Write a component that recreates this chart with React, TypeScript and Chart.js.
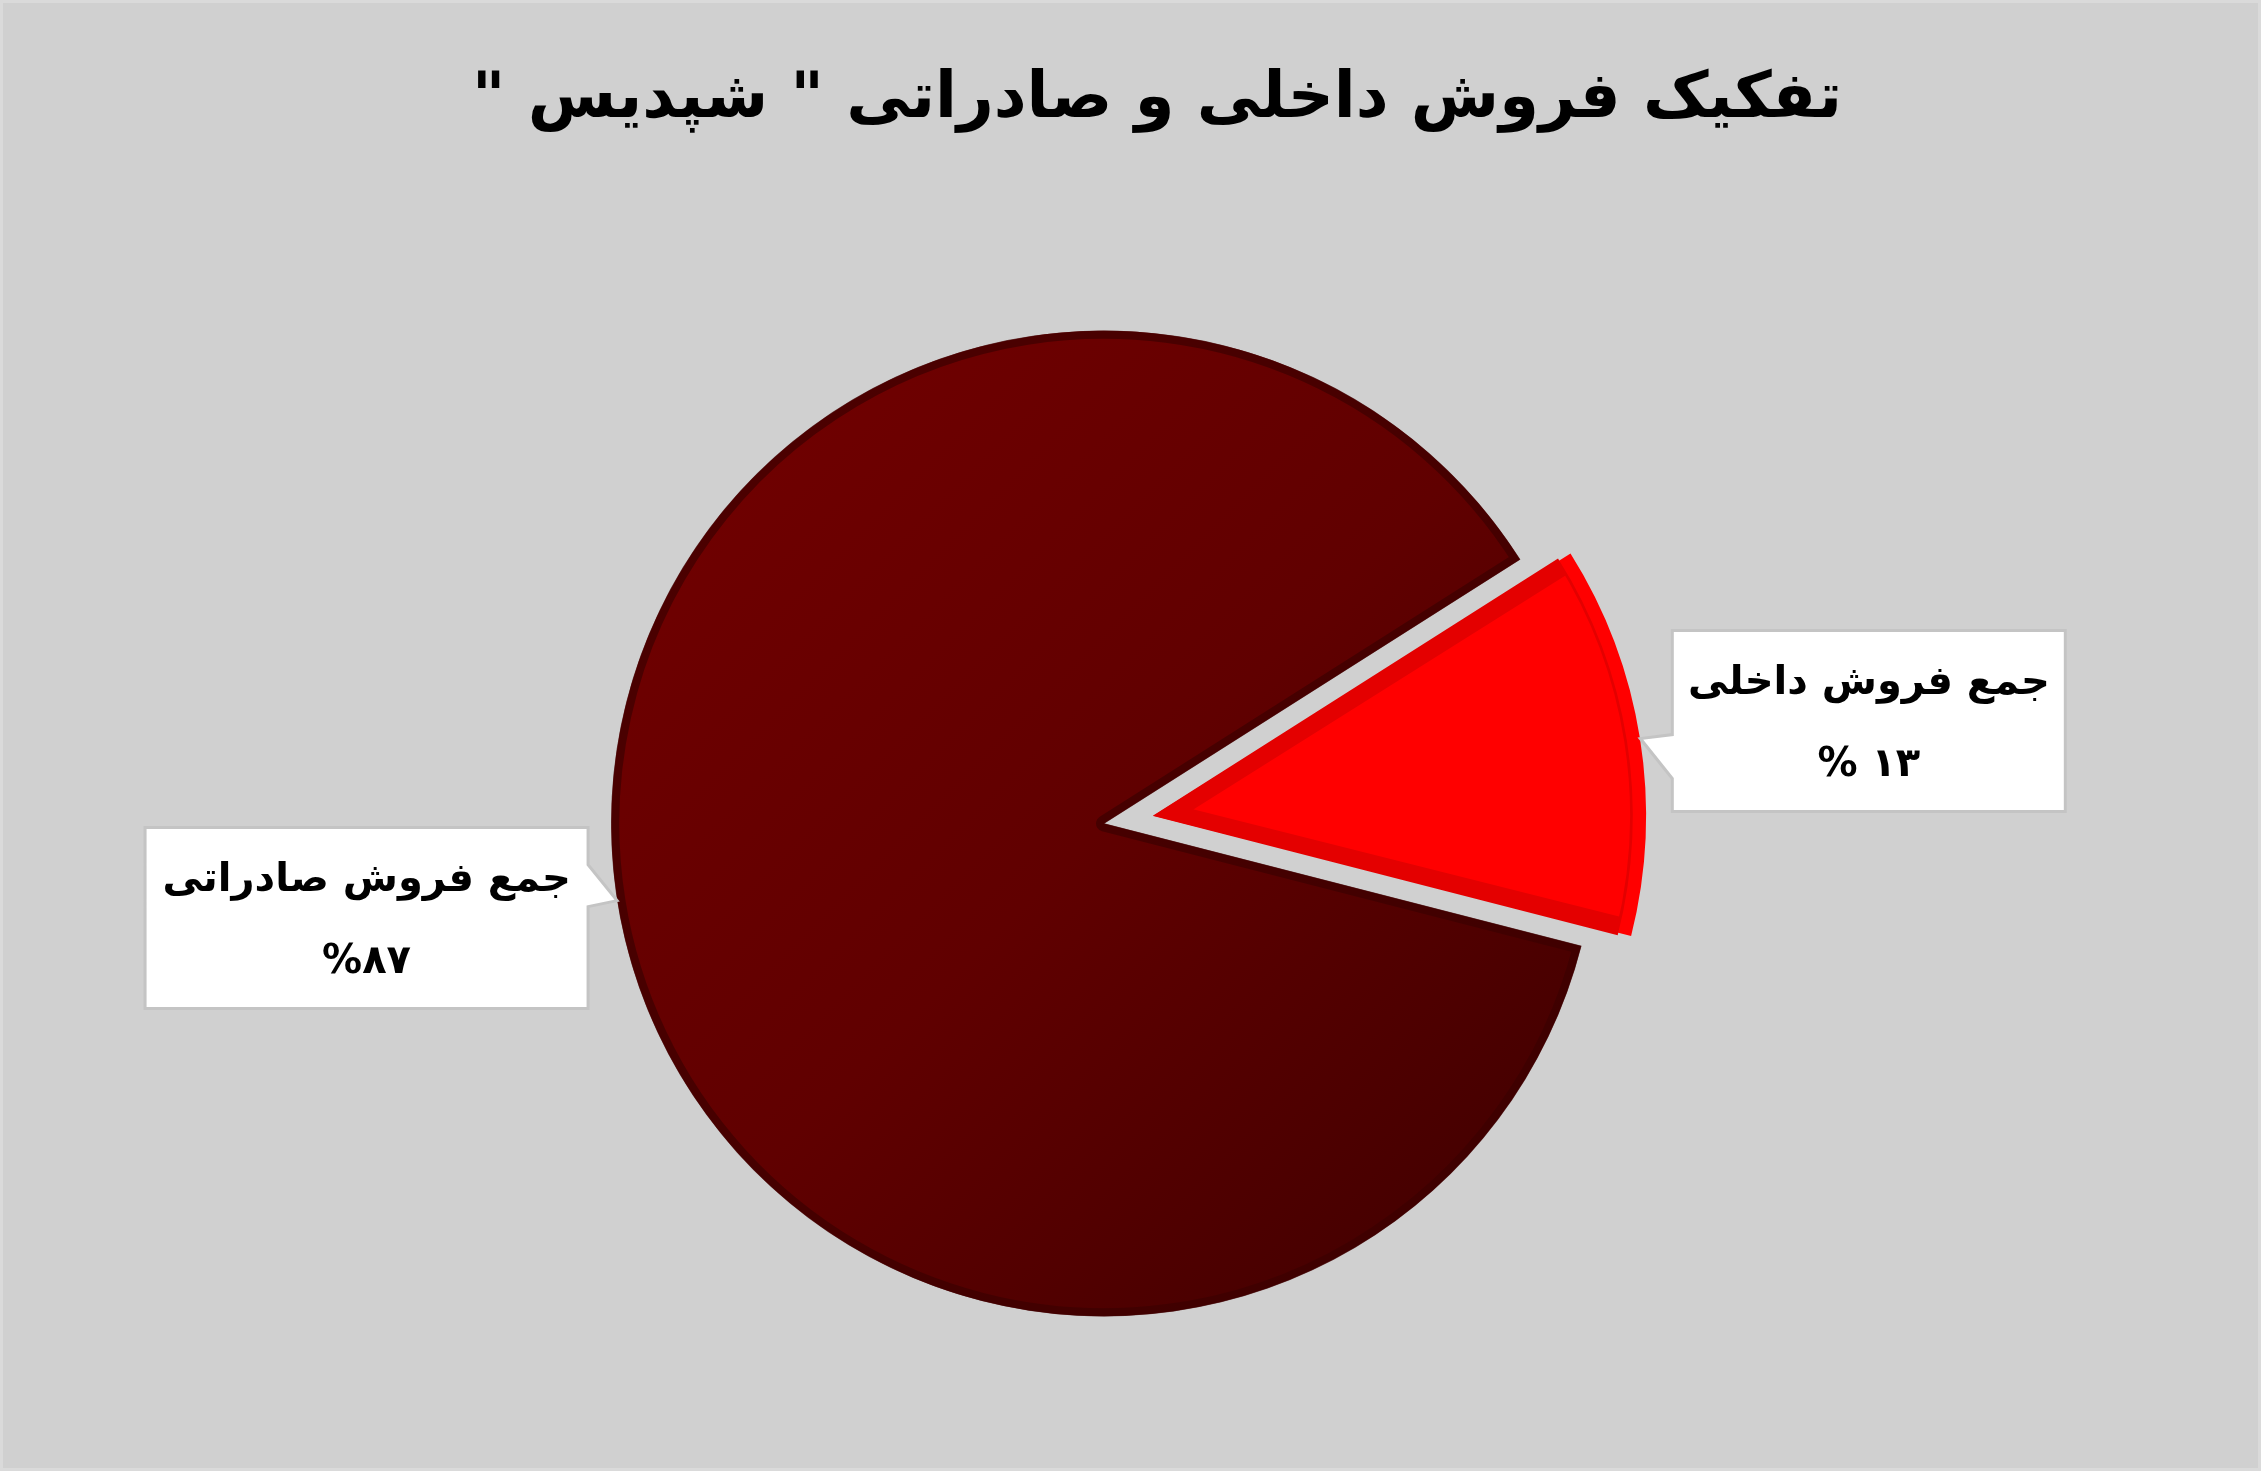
import { useEffect, useRef } from "react"
import { Chart, registerables, type Plugin, type ScriptableContext } from "chart.js"

Chart.register(...registerables)

const title = 'تفکیک فروش داخلی و صادراتی " شپدیس "'
const categories = ["جمع فروش داخلی", "جمع فروش صادراتی"]
const shares = [13, 87]
// percentage text as it is shown, left to right
const shareLabels = ["% ۱۳", "%۸۷"]

const FONT = '"DejaVu Sans", sans-serif'
const PIE_RADIUS = 493

// callout placement relative to the anchor on the slice edge
const calloutLayout = [
  { side: "right", dx: 32, dy: -108, w: 393, h: 181, tailTop: -4, tailBottom: 40 },
  { side: "left", dx: -29, dy: -73, w: 443, h: 181, tailTop: -36, tailBottom: 6 },
]

const backgroundPlugin: Plugin<"pie"> = {
  id: "pageBackground",
  beforeDraw(chart) {
    const { ctx, width, height } = chart
    ctx.save()
    ctx.fillStyle = "#d0d0d0"
    ctx.fillRect(0, 0, width, height)
    ctx.strokeStyle = "#dadada"
    ctx.lineWidth = 4
    ctx.strokeRect(1, 1, width - 2, height - 2)
    ctx.restore()
  },
}

const titlePlugin: Plugin<"pie"> = {
  id: "rtlTitle",
  afterDraw(chart) {
    const { ctx } = chart
    ctx.save()
    ctx.fillStyle = "#000000"
    ctx.font = `bold 64px ${FONT}`
    ctx.textAlign = "center"
    ctx.textBaseline = "middle"
    ctx.direction = "rtl"
    ctx.fillText(title, 1157, 100)
    ctx.restore()
  },
}

// the exploded slice keeps the same radius as the rest of the pie
const radiusPlugin: Plugin<"pie"> = {
  id: "keepRadius",
  beforeDatasetsDraw(chart) {
    chart.getDatasetMeta(0).data.forEach((el: any) => {
      const off = (el.options.offset || 0) / 4
      const circ = el.endAngle - el.startAngle
      const fix = 1 - Math.sin(Math.min(Math.PI, circ))
      el.outerRadius = PIE_RADIUS - off * fix
    })
  },
}

const calloutPlugin: Plugin<"pie"> = {
  id: "callouts",
  afterDatasetsDraw(chart) {
    const { ctx } = chart
    const meta = chart.getDatasetMeta(0)
    meta.data.forEach((el: any, i: number) => {
      const lay = calloutLayout[i]
      if (!lay) return
      const mid = (el.startAngle + el.endAngle) / 2
      const off = (el.options.offset || 0) / 4
      const r = PIE_RADIUS + off
      const ax = el.x + Math.cos(mid) * r
      const ay = el.y + Math.sin(mid) * r

      const by = ay + lay.dy
      const bx = lay.side === "right" ? ax + lay.dx : ax + lay.dx - lay.w
      const { w, h } = lay

      ctx.save()
      ctx.beginPath()
      if (lay.side === "right") {
        ctx.moveTo(bx, by)
        ctx.lineTo(bx + w, by)
        ctx.lineTo(bx + w, by + h)
        ctx.lineTo(bx, by + h)
        ctx.lineTo(bx, ay + lay.tailBottom)
        ctx.lineTo(ax, ay)
        ctx.lineTo(bx, ay + lay.tailTop)
      } else {
        ctx.moveTo(bx, by)
        ctx.lineTo(bx + w, by)
        ctx.lineTo(bx + w, ay + lay.tailTop)
        ctx.lineTo(ax, ay)
        ctx.lineTo(bx + w, ay + lay.tailBottom)
        ctx.lineTo(bx + w, by + h)
        ctx.lineTo(bx, by + h)
      }
      ctx.closePath()
      ctx.fillStyle = "#ffffff"
      ctx.fill()
      ctx.strokeStyle = "#c4c4c4"
      ctx.lineWidth = 3
      ctx.stroke()

      ctx.fillStyle = "#000000"
      ctx.textAlign = "center"
      ctx.textBaseline = "middle"
      ctx.font = `bold 40px ${FONT}`
      ctx.direction = "rtl"
      ctx.fillText(categories[i], bx + w / 2, by + 53)
      ctx.direction = "ltr"
      ctx.fillText(shareLabels[i], bx + w / 2, by + 135)
      ctx.restore()
    })
  },
}

export default function App() {
  const canvasRef = useRef<HTMLCanvasElement>(null)

  useEffect(() => {
    if (!canvasRef.current) return

    const sliceFill = (c: ScriptableContext<"pie">) => {
      if (c.dataIndex === 0) return "#ff0000"
      const area = c.chart.chartArea
      if (!area) return "#600000"
      const cx = (area.left + area.right) / 2
      const cy = (area.top + area.bottom) / 2
      const g = c.chart.ctx.createLinearGradient(cx - 420, cy - 420, cx + 420, cy + 420)
      g.addColorStop(0, "#710000")
      g.addColorStop(0.5, "#600000")
      g.addColorStop(1, "#420000")
      return g
    }

    const chart = new Chart(canvasRef.current, {
      type: "pie",
      data: {
        labels: categories,
        datasets: [
          {
            data: shares,
            backgroundColor: sliceFill,
            borderColor: ["#e40000", "rgba(60, 0, 0, 0.7)"],
            borderWidth: [16, 8],
            borderAlign: "inner",
            offset: [200, 0],
          },
        ],
      },
      options: {
        animation: false,
        responsive: true,
        maintainAspectRatio: false,
        rotation: 57.6,
        radius: PIE_RADIUS,
        layout: {
          // chart area centred on the pie's centre (1104, 823)
          padding: { left: 0, right: 53, top: 330, bottom: 154 },
        },
        plugins: {
          legend: { display: false },
          tooltip: { enabled: false },
          title: { display: false },
        },
      },
      plugins: [backgroundPlugin, radiusPlugin, calloutPlugin, titlePlugin],
    })

    return () => chart.destroy()
  }, [])

  return (
    <div style={{ position: "fixed", left: 0, top: 0, width: "100vw", height: "100vh" }}>
      <canvas ref={canvasRef} />
    </div>
  )
}
